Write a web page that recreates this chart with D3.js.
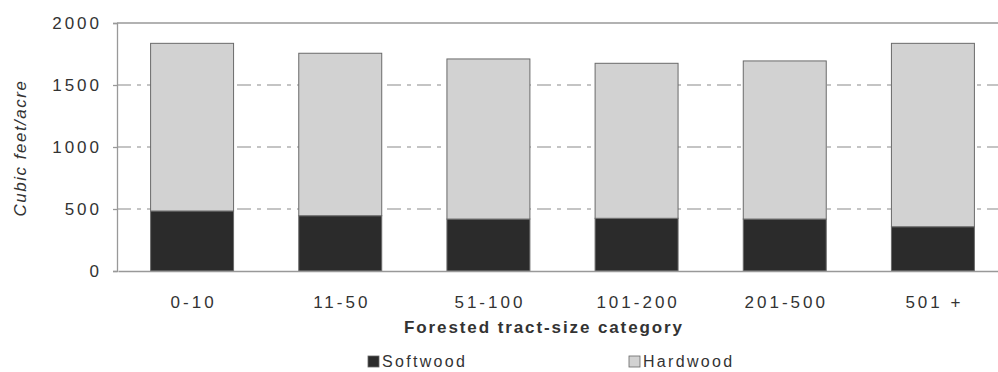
<!DOCTYPE html>
<html><head><meta charset="utf-8">
<script src="https://cdn.jsdelivr.net/npm/d3@7"></script>
<style>body{margin:0;background:#fff}svg{display:block}text{font-family:"Liberation Sans",Arial,sans-serif;fill:#333}</style>
</head><body><svg id="c" width="998" height="372"></svg>
<script>
const categories = ["0-10","11-50","51-100","101-200","201-500","501 +"];
const softwood = [484, 446, 419, 425, 419, 357];
const hardwood = [1352, 1310, 1291, 1250, 1275, 1479];
const yTicks = [0, 500, 1000, 1500, 2000];
const seriesNames = ["Softwood","Hardwood"];
const colors = ["#2b2b2b","#d2d2d2"];

const svg = d3.select("#c");
const x = d3.scaleBand().domain(categories).range([118, 1007]).paddingInner(0.44).paddingOuter(0.22);
const y = d3.scaleLinear().domain([0, 2000]).range([271, 23]);

// gridlines
svg.append("g").selectAll("line").data(yTicks.filter(d => d > 0 && d < 2000)).join("line")
  .attr("x1", 117).attr("x2", 1007).attr("y1", d => y(d)).attr("y2", d => y(d))
  .attr("stroke", "#8a8a8a").attr("stroke-width", 1.2).attr("stroke-dasharray", "14,6,4,6");
// top border
svg.append("line").attr("x1", 117).attr("x2", 1007).attr("y1", y(2000)).attr("y2", y(2000))
  .attr("stroke", "#999").attr("stroke-width", 1.5);

const stacked = d3.stack().keys([0,1]).value((d, k) => k === 0 ? softwood[d] : hardwood[d])(d3.range(categories.length));
svg.append("g").selectAll("g").data(stacked).join("g")
  .attr("fill", (d, i) => colors[i])
  .selectAll("rect").data(d => d).join("rect")
  .attr("x", d => x(categories[d.data]))
  .attr("width", x.bandwidth())
  .attr("y", d => y(d[1]))
  .attr("height", d => y(d[0]) - y(d[1]))
  .attr("stroke", "#6a6a6a").attr("stroke-width", 1);

// y axis
const ya = svg.append("g").attr("transform", "translate(117,0)")
  .call(d3.axisLeft(y).tickValues(yTicks).tickSize(4).tickPadding(11).tickFormat(d3.format("d")));
ya.selectAll("path,line").attr("stroke", "#999").attr("stroke-width", 1.3);
ya.selectAll("text").style("font-size", "17px").style("letter-spacing", "3px").style("fill", "#333").attr("dy", "0.3em");

// x axis baseline
const xa = svg.append("g").attr("transform", "translate(0,271)")
  .call(d3.axisBottom(x).tickSize(0).tickPadding(25));
xa.select("path").attr("stroke", "#999").attr("stroke-width", 1.5);
xa.selectAll("text").style("font-size", "17px").style("letter-spacing", "3px").style("fill", "#333").attr("dx", "1.5px");

svg.append("text").attr("transform", "translate(26,148) rotate(-90)").attr("text-anchor", "middle")
  .style("font-size", "17px").style("font-style", "italic").style("letter-spacing", "1.5px").text("Cubic feet/acre");
svg.append("text").attr("x", 544).attr("y", 333).attr("text-anchor", "middle")
  .style("font-size", "17px").style("font-weight", "bold").style("letter-spacing", "1.9px").text("Forested tract-size category");

const legX = [368, 629];
const lg = svg.append("g").selectAll("g").data(seriesNames).join("g")
  .attr("transform", (d, i) => `translate(${legX[i]},0)`);
lg.append("rect").attr("x", 0).attr("y", 356).attr("width", 11).attr("height", 11)
  .attr("fill", (d, i) => colors[i]).attr("stroke", "#666").attr("stroke-width", 0.8);
lg.append("text").attr("x", 14).attr("y", 367).style("font-size", "16px").style("letter-spacing", "2.3px").text(d => d);
</script></body></html>
